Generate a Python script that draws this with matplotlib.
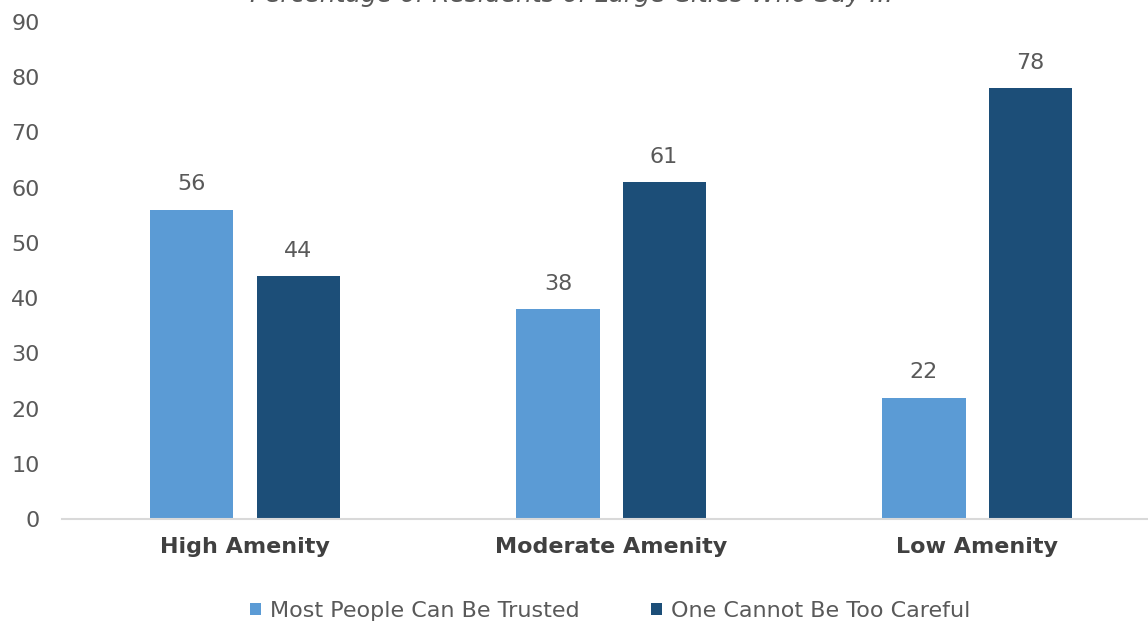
import matplotlib.pyplot as plt
import numpy as np

plt.rcParams["font.family"] = ["DejaVu Sans"]

categories = ["High Amenity", "Moderate Amenity", "Low Amenity"]
trusted = [56, 38, 22]
careful = [44, 61, 78]
series_names = ["Most People Can Be Trusted", "One Cannot Be Too Careful"]

light_blue = "#5B9BD5"
dark_blue = "#1C4E78"
grey = "#595959"

fig = plt.figure(figsize=(11.48, 6.27), dpi=100)
ax = fig.add_axes([62 / 1148, 1 - 519 / 627, (1148 - 62) / 1148, 497 / 627])

x = np.arange(len(categories))
w = 0.227
off = 0.145

b1 = ax.bar(x - off, trusted, w, color=light_blue, label=series_names[0])
b2 = ax.bar(x + off, careful, w, color=dark_blue, label=series_names[1])

for bars, vals in [(b1, trusted), (b2, careful)]:
    for bar, v in zip(bars, vals):
        ax.text(bar.get_x() + bar.get_width() / 2, v + 2.8, str(v),
                ha="center", va="bottom", fontsize=16, color=grey)

ax.set_ylim(0, 90)
ax.set_yticks(range(0, 91, 10))
ax.set_xlim(-0.5, 2.467)
ax.set_xticks(x)
ax.set_xticklabels(categories, fontsize=16, fontweight="bold", color="#404040")
ax.tick_params(axis="x", length=0, pad=13)
ax.tick_params(axis="y", length=0, labelsize=16, labelcolor=grey, pad=16)

for s in ["top", "right", "left"]:
    ax.spines[s].set_visible(False)
ax.spines["bottom"].set_color("#D9D9D9")
ax.spines["bottom"].set_linewidth(1.5)

# title sits mostly above the canvas
fig.text(572 / 1148, 1 - 2 / 627, "Percentage of Residents of Large Cities Who Say ...",
         ha="center", va="baseline", fontsize=18, style="italic", color=grey)

fig.legend(handles=[b1, b2], loc="center", bbox_to_anchor=(610 / 1148, 1 - 611 / 627),
           ncol=2, frameon=False, fontsize=16, handlelength=0.5, handleheight=0.5,
           handletextpad=0.4, columnspacing=3.2, labelcolor=grey)

fig.savefig("out.png", dpi=100)
